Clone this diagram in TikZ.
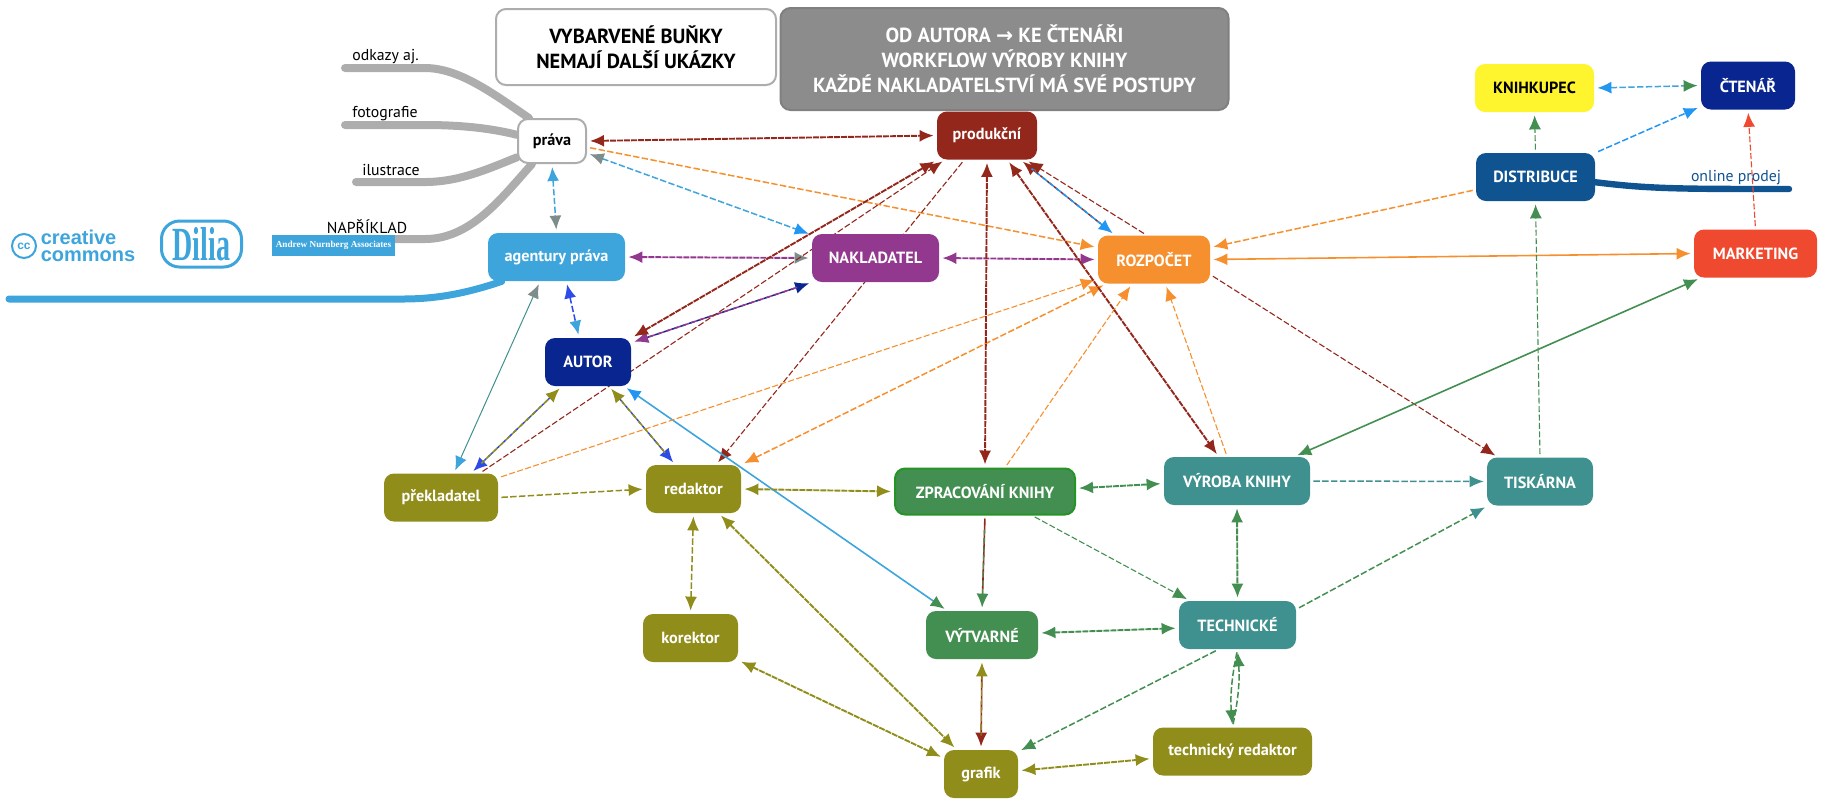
\documentclass[tikz,border=0pt]{standalone}
\usepackage{fontspec}
\setmainfont{PT Sans}
\newfontfamily\arrowfont{DejaVu Sans}
\newfontfamily\logofont{Liberation Sans}
\newfontfamily\dilfont{Liberation Serif}
\usetikzlibrary{shapes,arrows.meta,backgrounds,positioning,fit}

\definecolor{Brown}{HTML}{94271B}
\definecolor{Purple}{HTML}{92388E}
\definecolor{Navy}{HTML}{09258F}
\definecolor{Orange}{HTML}{F68F2D}
\definecolor{Sky}{HTML}{3DA5DC}
\definecolor{Dodger}{HTML}{2196F3}
\definecolor{Royal}{HTML}{2C4BE8}
\definecolor{Olive}{HTML}{918D1B}
\definecolor{Green}{HTML}{438F51}
\definecolor{Teal}{HTML}{3F918F}
\definecolor{Tomato}{HTML}{EF4A2F}
\definecolor{Ocean}{HTML}{0F5391}
\definecolor{Lemon}{HTML}{FFF52F}
\definecolor{Slate}{HTML}{7E8C8C}
\definecolor{Branch}{HTML}{ADADAD}

\begin{document}
\begin{tikzpicture}[x=0.5pt, y=-0.5pt]
			\tikzstyle{Cell}	= [rectangle, rounded corners=5pt, inner sep=0pt, minimum height=24pt, text=white, font=\bfseries\fontsize{8.1}{10}\selectfont]
			\tikzstyle{Note}	= [rectangle, rounded corners=5pt, inner sep=0pt, align=center, font=\bfseries\fontsize{10.2}{12.5}\selectfont]
			\tikzstyle{Leaf}	= [inner sep=0pt, font=\fontsize{7.9}{10}\selectfont]
			\tikzstyle{Limb}	= [line width=4pt, Branch, line cap=round]
			\tikzstyle{Dash}	= [line width=0.75pt, dash pattern=on 3.2pt off 1.2pt]
			\tikzstyle{Dense}	= [line width=0.95pt, dash pattern=on 3pt off 0.5pt]
			\tikzstyle{Fine}	= [line width=0.55pt, dash pattern=on 3pt off 1.2pt]
			\tikzstyle{Full}	= [line width=0.8pt]
			\tikzstyle{Thin}	= [line width=0.5pt]
			\tikzstyle{Over}	= [shorten >=7pt, shorten <=7pt]
			\tikzset{
				Both/.style 2 args={shorten >=1.5pt, shorten <=1.5pt, arrows={Latex[length=7pt,width=6pt,color=#1]-Latex[length=7pt,width=6pt,color=#2]}},
				One/.style={shorten >=1.5pt, shorten <=1.5pt, arrows={-Latex[length=7pt,width=6pt,color=#1]}}
			}

			\useasboundingbox (0, 0) rectangle (1826, 805);

			% notes on top
			\node (filled) at (636, 47) [Note, draw=Branch, line width=1pt, fill=white, minimum width=140pt, minimum height=38pt] {VYBARVENÉ BUŇKY\\NEMAJÍ DALŠÍ UKÁZKY};
			\node (title) at (1004.5, 59) [Note, draw=gray, line width=1pt, fill=gray!90, text=white, minimum width=224pt, minimum height=51pt] {OD AUTORA {\arrowfont →} KE ČTENÁŘI\\WORKFLOW VÝROBY KNIHY\\KAŽDÉ NAKLADATELSTVÍ MÁ SVÉ POSTUPY};

			% left side
			\node (prava) at (552, 141) [Cell, draw=Branch, line width=1pt, fill=white, text=black, minimum width=34pt, minimum height=22pt] {práva};
			\node (agentury) at (556.5, 257) [Cell, fill=Sky, minimum width=68.5pt] {agentury práva};
			\node (autor) at (588, 362) [Cell, fill=Navy, minimum width=43pt] {AUTOR};
			\node (prekladatel) at (441, 497.5) [Cell, fill=Olive, minimum width=57pt] {překladatel};
			\node (redaktor) at (693.5, 489) [Cell, fill=Olive, minimum width=47.5pt] {redaktor};
			\node (korektor) at (690.5, 638) [Cell, fill=Olive, minimum width=47.5pt] {korektor};

			% middle
			\node (produkcni) at (987, 135.5) [Cell, fill=Brown, minimum width=50pt] {produkční};
			\node (nakladatel) at (875.5, 258) [Cell, fill=Purple, minimum width=63.5pt] {NAKLADATEL};
			\node (rozpocet) at (1154, 259.5) [Cell, fill=Orange, minimum width=56pt] {ROZPOČET};
			\node (zpracovani) at (985, 491.5) [Cell, fill=Green, draw=green!50!black!85, line width=1pt, minimum width=90pt, minimum height=23pt] {ZPRACOVÁNÍ KNIHY};
			\node (vytvarne) at (982, 635) [Cell, fill=Green, minimum width=56pt] {VÝTVARNÉ};
			\node (grafik) at (981, 774) [Cell, fill=Olive, minimum width=37pt] {grafik};

			% right side
			\node (vyroba) at (1237, 481) [Cell, fill=Teal, minimum width=73pt] {VÝROBA KNIHY};
			\node (tiskarna) at (1540, 481.5) [Cell, fill=Teal, minimum width=53pt] {TISKÁRNA};
			\node (technicke) at (1237.5, 625) [Cell, fill=Teal, minimum width=58.5pt] {TECHNICKÉ};
			\node (techred) at (1232.5, 751.5) [Cell, fill=Olive, minimum width=79.5pt] {technický redaktor};
			\node (knihkupec) at (1534.5, 88) [Cell, fill=Lemon, text=black, minimum width=59.5pt] {KNIHKUPEC};
			\node (ctenar) at (1748, 85.5) [Cell, fill=Navy, minimum width=47pt] {ČTENÁŘ};
			\node (distribuce) at (1535.5, 177) [Cell, fill=Ocean, minimum width=59.5pt] {DISTRIBUCE};
			\node (marketing) at (1755.5, 253.5) [Cell, fill=Tomato, minimum width=61.5pt] {MARKETING};

			% free labels
			\node (odkazy) at (385.5, 57) [Leaf] {odkazy aj.};
			\node (fotografie) at (385, 114) [Leaf] {fotografie};
			\node (ilustrace) at (391, 170) [Leaf] {ilustrace};
			\node (napriklad) at (367, 227) [Leaf] {NAPŘÍKLAD};
			\node (online) at (1736, 178) [Leaf, text=Ocean] {online prodej};

			% logos
			\node (ccmark) at (24, 246) [circle, draw=Sky, line width=1pt, minimum size=12pt, inner sep=0pt, text=Sky, font=\logofont\bfseries\fontsize{6}{6}\selectfont] {cc};
			\node (ccname) at (88, 246) [inner sep=0pt, align=left, text=Sky, font=\logofont\bfseries\fontsize{10}{8.4}\selectfont] {creative\\commons};
			\node (dilia) at (201.5, 244) [draw=Sky, line width=1.5pt, rounded corners=9pt, minimum width=40pt, minimum height=23pt, inner sep=0pt, text=Sky, font=\dilfont\bfseries\fontsize{14}{14}\selectfont] {\scalebox{1}[1.7]{Dilia}};
			\node (nurnberg) at (333.5, 245.5) [fill=Sky, minimum width=61.5pt, minimum height=10.5pt, inner sep=0pt, text=white, font=\dilfont\bfseries\fontsize{4.6}{5}\selectfont] {Andrew Nurnberg Associates};

			\coordinate (c1) at (345, 68);
			\coordinate (c2) at (345, 125);
			\coordinate (c3) at (356, 182);
			\coordinate (c4) at (395, 239);
			\coordinate (c5) at (9, 299);
			\coordinate (c6) at (1789, 189);

			\begin{pgfonlayer}{background}
			\draw [Limb] (c1) -- (425, 68) .. controls (460, 68) and (495, 95) .. (prava.135);
			\draw [Limb] (c2) -- (425, 125) .. controls (460, 125) and (490, 128) .. (prava.170);
			\draw [Limb] (c3) -- (425, 182) .. controls (460, 182) and (490, 168) .. (prava.205);
			\draw [Limb] (c4) -- (425, 239) .. controls (470, 239) and (500, 200) .. (prava.-131);
			\draw [Limb, Sky, line width=3.5pt] (c5) -- (403, 299) .. controls (440, 299) and (470, 292) .. (agentury.-156);
			\draw [Limb, Ocean, line width=3.2pt] (distribuce.-5) .. controls (1650, 189) and (1680, 189) .. (c6);

			% rights and agencies
			\draw [Both={Brown}{Brown}] (prava.east) to (produkcni.west) [Dense][Brown];
			\draw [One={Orange}] (prava.-10) to (rozpocet.168) [Dash][Orange];
			\draw [Both={Slate}{Dodger}] (prava.-19) to (nakladatel.160) [Dash][Sky];
			\draw [Both={Sky}{Slate}] (prava.south) to (agentury.north) [Dash][Sky];
			\draw [Both={Purple}{Slate}] (agentury.east) to (nakladatel.west) [Dense][Purple];
			\draw [Both={Royal}{Sky}] (agentury.-68) to (autor.110) [Dash][Royal];
			\draw [Both={Slate}{Sky}] (agentury.-124) to (prekladatel.62) [Thin][Teal];

			% author
			\draw [Both={Purple}{Navy}] (autor.24) to (nakladatel.-159) [Dash][Navy];
			\draw [Over] (autor.24) to (nakladatel.-159) [Dash][Purple][dash phase=2pt];
			\draw [Both={Brown}{Brown}] (autor.29) to (produkcni.-154) [Dense][Brown];
			\draw [One={Brown}] (prekladatel.32) to (produkcni.-150) [Fine][Brown];
			\draw [One={Brown}] (produkcni.-133) to (redaktor.47) [Fine][Brown];
			\draw [Both={Olive}{Royal}] (autor.-137) to (prekladatel.39) [Dash][Royal];
			\draw [Over] (autor.-137) to (prekladatel.39) [Dash][Olive][dash phase=2pt];
			\draw [Both={Olive}{Royal}] (autor.-49) to (redaktor.127) [Dash][Royal];
			\draw [Over] (autor.-49) to (redaktor.127) [Dash][Olive][dash phase=2pt];
			\draw [Both={Dodger}{Green}] (autor.-34) to (vytvarne.145) [Full][Sky];

			% budget
			\draw [One={Orange}] (prekladatel.19) to (rozpocet.-161) [Fine][Orange];
			\draw [Both={Orange}{Orange}] (redaktor.27) to (rozpocet.-153) [Dash][Orange];
			\draw [One={Orange}] (zpracovani.50) to (rozpocet.-132) [Fine][Orange];
			\draw [One={Orange}] (vyroba.112) to (rozpocet.-65) [Fine][Orange];
			\draw [Both={Purple}{Purple}] (nakladatel.east) to (rozpocet.west) [Dense][Purple];
			\draw [Both={Orange}{Orange}] (rozpocet.east) to (marketing.west) [Full][Orange];
			\draw [One={Orange}] (distribuce.-168) to (rozpocet.12) [Dash][Orange];
			\draw [One={Brown}] (rozpocet.-15) to (tiskarna.150) [Fine][Brown];

			% production
			\draw [Both={Brown}{Brown}] (produkcni.south) to (zpracovani.north) [Dense][Brown];
			\draw [Both={Brown}{Brown}] (produkcni.-50) to (vyroba.127) [Dense][Brown];
			\draw [Both={Brown}{Dodger}] (produkcni.-36) to (rozpocet.148) [Dash][Brown];
			\draw [Over] (produkcni.-36) to (rozpocet.148) [Dash][Dodger][dash phase=2pt];
			\draw [One={Brown}] (rozpocet.107) to (produkcni.-32) [Fine][Brown];

			% book making
			\draw [Both={Olive}{Olive}] (redaktor.east) to (zpracovani.west) [Dense][Olive];
			\draw [Both={Green}{Green}] (zpracovani.2) to (vyroba.-178) [Dense][Green];
			\draw [One={Teal}] (vyroba.east) to (tiskarna.west) [Dash][Teal];
			\draw [Both={Green}{Green}] (vyroba.south) to (technicke.north) [Dense][Green];
			\draw [One={Green}] (zpracovani.-27) to (technicke.153) [Fine][Green];
			\draw [One={Teal}] (technicke.15) to (tiskarna.-155) [Dash][Green];
			\draw [Both={Green}{Green}] (vytvarne.2) to (technicke.-177) [Dense][Green];
			\draw [One={Green}] (technicke.south) to [bend right=8] (techred.north) [Dash][Green];
			\draw [One={Green}] (techred.north) to [bend right=8] (technicke.south) [Dash][Green];
			\draw [One={Green}] (technicke.-128) to (grafik.31) [Dash][Green];
			\draw [One={Green}] (zpracovani.south) to (vytvarne.north) [Full][Brown];
			\draw [Over] (zpracovani.south) to (vytvarne.north) [Fine][Green];
			\draw [Both={Olive}{Brown}] (vytvarne.south) to (grafik.north) [Full][Brown];
			\draw [Over] (vytvarne.south) to (grafik.north) [Fine][Olive];

			% editors
			\draw [One={Olive}] (prekladatel.east) to (redaktor.west) [Dash][Olive];
			\draw [Both={Olive}{Olive}] (redaktor.south) to (korektor.north) [Dash][Olive];
			\draw [Both={Olive}{Olive}] (redaktor.-44) to (grafik.135) [Dense][Olive];
			\draw [Both={Olive}{Olive}] (korektor.-25) to (grafik.157) [Dense][Olive];
			\draw [Both={Olive}{Olive}] (grafik.5) to (techred.-175) [Dense][Olive];

			% selling
			\draw [One={Green}] (tiskarna.north) to (distribuce.south) [Fine][Green];
			\draw [One={Green}] (distribuce.north) to (knihkupec.south) [Fine][Green];
			\draw [One={Dodger}] (distribuce.22) to (ctenar.-156) [Dash][Dodger];
			\draw [Both={Dodger}{Green}] (knihkupec.east) to (ctenar.west) [Dash][Sky];
			\draw [One={Tomato}] (marketing.north) to (ctenar.south) [Fine][Tomato];
			\draw [Both={Green}{Green}] (vyroba.23) to (marketing.-156) [Full][Green];
			\end{pgfonlayer}
		\end{tikzpicture}
\end{document}
